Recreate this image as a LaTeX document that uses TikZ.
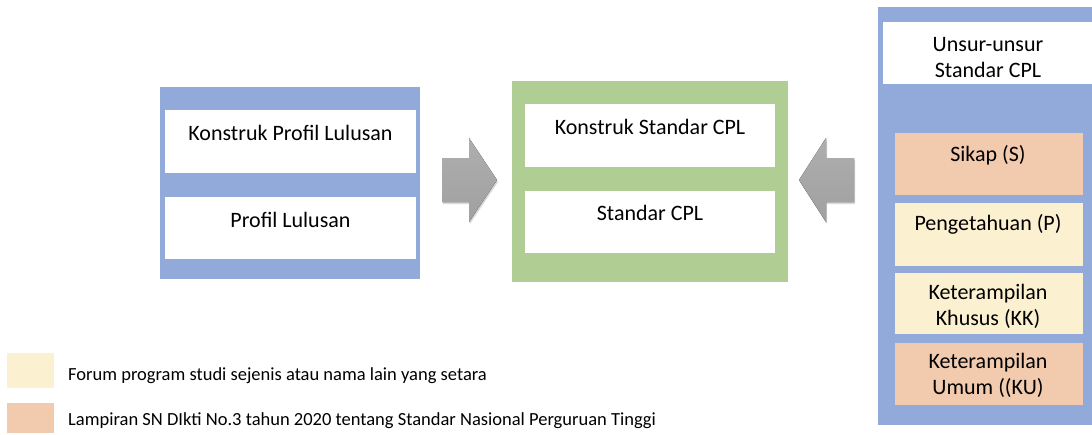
\documentclass[tikz,border=0pt]{standalone}
\usepackage{fontspec}
\setmainfont{Carlito}
\usetikzlibrary{shadows}
\definecolor{panelblue}{RGB}{145,170,218}
\definecolor{panelgreen}{RGB}{176,206,148}
\definecolor{skorange}{RGB}{242,202,173}
\definecolor{skyellow}{RGB}{251,240,207}
\definecolor{arrowgray}{RGB}{160,160,160}

\begin{document}
\begin{tikzpicture}[x=1pt,y=-1pt,panel/.style={rectangle,inner sep=0pt,draw=none},card/.style={rectangle,inner sep=0pt,draw=none,fill=white},lbl/.style={font=\fontsize{22}{26}\selectfont,align=center,inner sep=0pt},legendtxt/.style={font=\fontsize{18.5}{22}\selectfont,anchor=west,inner sep=0pt},blockarrow/.style={top color=arrowgray!85!white,bottom color=arrowgray,drop shadow={opacity=0.3,shadow xshift=1pt,shadow yshift=-2pt}}]
\useasboundingbox (0,0) rectangle (1092,434);
\node[panel,fill=panelblue,minimum width=260pt,minimum height=192pt] (profilPanel) at (290,183) {};
\node[card,minimum width=251pt,minimum height=63pt] (konstrukProfil) at (290.5,141.5) {};
\node[lbl] (konstrukProfilTxt) at (290.5,133) {Konstruk Profil Lulusan};
\node[card,minimum width=251pt,minimum height=62pt] (profil) at (290.5,228) {};
\node[lbl] (profilTxt) at (290.5,220) {Profil Lulusan};
\node[panel,fill=panelgreen,minimum width=276pt,minimum height=201pt] (cplPanel) at (650,181.5) {};
\node[card,minimum width=250pt,minimum height=63pt] (konstrukCpl) at (650,135.5) {};
\node[lbl] (konstrukCplTxt) at (650,127) {Konstruk Standar CPL};
\node[card,minimum width=250pt,minimum height=62pt] (cpl) at (650,222) {};
\node[lbl] (cplTxt) at (650,213) {Standar CPL};
\node[panel,fill=panelblue,minimum width=214pt,minimum height=418pt] (unsurPanel) at (985,216) {};
\node[card,minimum width=209pt,minimum height=62pt] (unsur) at (987.5,53) {};
\node[lbl] (unsurTxt) at (988,57.5) {Unsur-unsur\\Standar CPL};
\node[panel,fill=skorange,minimum width=188pt,minimum height=62pt] (sikap) at (989,164) {};
\node[lbl] (sikapTxt) at (988,155) {Sikap (S)};
\node[panel,fill=skyellow,minimum width=188pt,minimum height=63pt] (pengetahuan) at (989,234.5) {};
\node[lbl] (pengetahuanTxt) at (988,224) {Pengetahuan (P)};
\node[panel,fill=skyellow,minimum width=188pt,minimum height=61pt] (khusus) at (989,303.5) {};
\node[lbl] (khususTxt) at (988,306.5) {Keterampilan\\Khusus (KK)};
\node[panel,fill=skorange,minimum width=188pt,minimum height=62pt] (umum) at (989,374) {};
\node[lbl] (umumTxt) at (988,375.5) {Keterampilan\\Umum ((KU)};
\fill[blockarrow] (442,158) -- (469,158) -- (469,138) -- (497,180) -- (469,222) -- (469,202) -- (442,202) -- cycle;
\fill[blockarrow] (854,158) -- (826,158) -- (826,138) -- (799,180) -- (826,222) -- (826,202) -- (854,202) -- cycle;
\node[panel,fill=skyellow,minimum width=47pt,minimum height=35pt] (forumKey) at (30.5,370.5) {};
\node[legendtxt] (forumTxt) at (68,376) {Forum program studi sejenis atau nama lain yang setara};
\node[panel,fill=skorange,minimum width=47pt,minimum height=30pt] (lampiranKey) at (30.5,418) {};
\node[legendtxt] (lampiranTxt) at (68,421) {Lampiran SN DIkti No.3 tahun 2020 tentang Standar Nasional Perguruan Tinggi};
\end{tikzpicture}
\end{document}
